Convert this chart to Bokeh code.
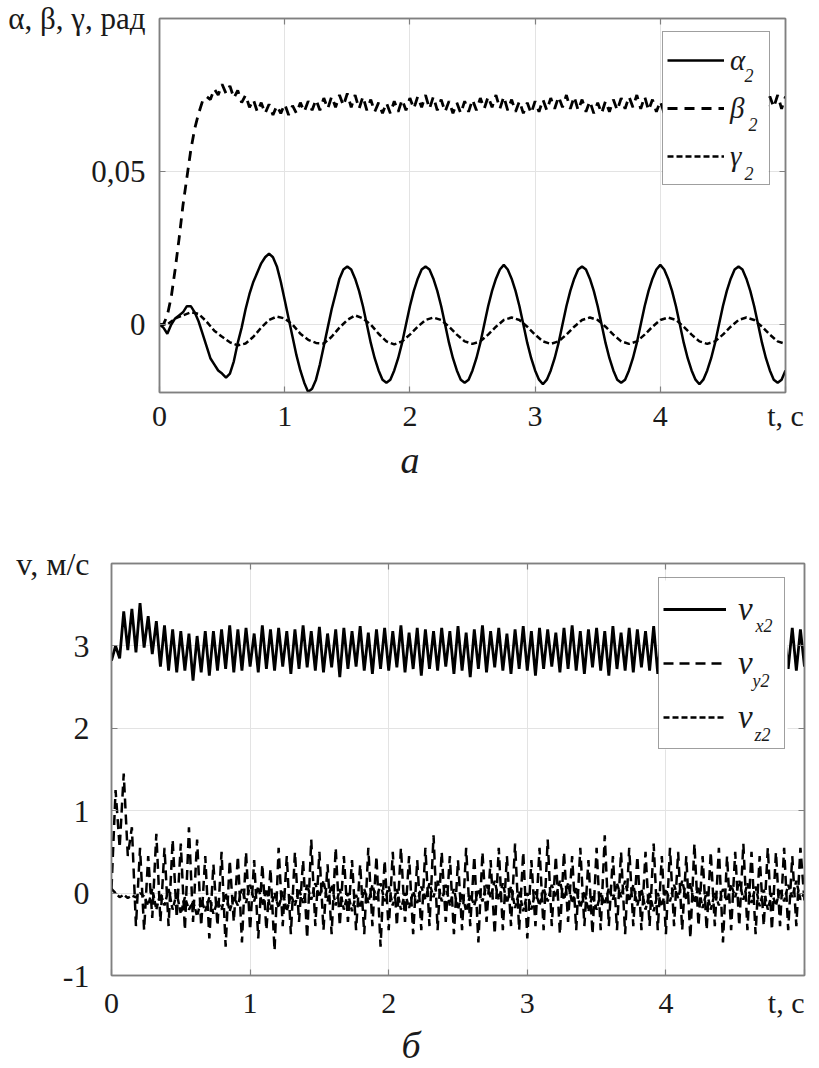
import numpy as np
from bokeh.plotting import figure
from bokeh.models import (Range1d, FixedTicker, CustomJSTickFormatter, LinearAxis,
                          Label, Legend, LegendItem, Title, BoxAnnotation)
from bokeh.embed import file_html
from bokeh.resources import INLINE

SERIF = "Liberation Serif"

# ---------------- data: chart (a) angles, rad ----------------
t_alpha = np.linspace(0, 5, 161)
alpha2 = [
    0.000, -0.001, -0.003, 0.000, 0.002, 0.003, 0.004, 0.006, 0.006, 0.004,
    0.001, -0.003, -0.007, -0.011, -0.013, -0.015, -0.016, -0.0173, -0.016, -0.012,
    -0.006, -0.001, 0.005, 0.010, 0.014, 0.017, 0.020, 0.022, 0.0232, 0.022,
    0.019, 0.014, 0.008, 0.002, -0.004, -0.010, -0.015, -0.019, -0.022, -0.021,
    -0.018, -0.013, -0.007, -0.001, 0.005, 0.010, 0.015, 0.018, 0.019, 0.018,
    0.015, 0.011, 0.006, 0.000, -0.006, -0.011, -0.015, -0.018, -0.019, -0.018,
    -0.015, -0.011, -0.006, 0.000, 0.006, 0.011, 0.015, 0.018,
    0.019, 0.018, 0.015, 0.011, 0.006, 0.000, -0.006, -0.011, -0.015, -0.018,
    -0.019, -0.018, -0.015, -0.011, -0.006, 0.000, 0.006, 0.011, 0.015, 0.018,
    0.0195, 0.018, 0.015, 0.011, 0.006, 0.000, -0.006, -0.011, -0.015, -0.018,
    -0.0195, -0.018, -0.015, -0.011, -0.006, 0.000, 0.006, 0.011, 0.015, 0.018,
    0.019, 0.018, 0.015, 0.011, 0.006, 0.000, -0.006, -0.011, -0.015, -0.018,
    -0.019, -0.018, -0.015, -0.011, -0.006, 0.000, 0.006, 0.011, 0.015, 0.018,
    0.0195, 0.018, 0.015, 0.011, 0.006, 0.000, -0.006, -0.011, -0.015, -0.018,
    -0.0195, -0.018, -0.015, -0.011, -0.006, 0.000, 0.006, 0.011, 0.015, 0.018,
    0.019, 0.018, 0.015, 0.011, 0.006, 0.000, -0.006, -0.011, -0.015, -0.018,
    -0.019, -0.018, -0.015,
]

t_beta = np.linspace(0, 5, 161)
beta2 = [
    0.000, 0.000, 0.003, 0.009, 0.018, 0.028, 0.039, 0.048, 0.057, 0.064,
    0.069, 0.073, 0.0745, 0.0735, 0.077, 0.075, 0.0785, 0.0755, 0.078, 0.074,
    0.0765, 0.0725, 0.075, 0.071, 0.0735, 0.0695, 0.0725, 0.069, 0.072, 0.0685,
    0.0715, 0.069, 0.072, 0.0685, 0.0715, 0.069, 0.0725, 0.0695, 0.073, 0.070,
    0.0735, 0.070, 0.074, 0.0705, 0.0745, 0.071, 0.075, 0.0715, 0.0755, 0.071,
    0.075, 0.0705, 0.0745, 0.070, 0.0735, 0.0695, 0.0725, 0.069, 0.0725, 0.069,
    0.073, 0.0695, 0.0735, 0.070, 0.074, 0.0705, 0.0745, 0.071, 0.075, 0.0705,
    0.0745, 0.070, 0.0735, 0.0695, 0.073, 0.069, 0.0725, 0.069, 0.073, 0.0695,
    0.0735, 0.070, 0.074, 0.0705, 0.0745, 0.071, 0.075, 0.0705, 0.0745, 0.070,
    0.0735, 0.0695, 0.073, 0.069, 0.0725, 0.069, 0.073, 0.0695, 0.0735, 0.070,
    0.074, 0.0705, 0.0745, 0.071, 0.075, 0.0705, 0.0745, 0.070, 0.0735, 0.0695,
    0.073, 0.069, 0.0725, 0.069, 0.073, 0.0695, 0.0735, 0.070, 0.074, 0.0705,
    0.0745, 0.071, 0.075, 0.0705, 0.0745, 0.070, 0.0735, 0.0695, 0.073, 0.069,
    0.0725, 0.069, 0.073, 0.0695, 0.0735, 0.070, 0.074, 0.0705, 0.0745, 0.071,
    0.075, 0.0705, 0.0745, 0.070, 0.0735, 0.0695, 0.073, 0.069, 0.0725, 0.069,
    0.073, 0.0695, 0.0735, 0.070, 0.074, 0.0705, 0.0745, 0.071, 0.075, 0.0705,
    0.0745,
]

t_gamma = np.linspace(0, 5, 81)
gamma2 = [
    0.000, 0.000, 0.002, 0.003, 0.004, 0.0035, 0.001, -0.002, -0.004, -0.0058,
    -0.0068, -0.0062, -0.004, -0.001, 0.0015, 0.0026, 0.002, 0.000, -0.003, -0.005,
    -0.006, -0.0062, -0.004, -0.001, 0.0015, 0.003, 0.002, 0.000, -0.003, -0.0055,
    -0.0065, -0.0055, -0.0033, -0.0007, 0.0015,
    0.0023, 0.0015, -0.0007, -0.0033, -0.0055, -0.0063, -0.0055, -0.0033, -0.0007, 0.0015,
    0.0023, 0.0015, -0.0007, -0.0033, -0.0055, -0.0063, -0.0055, -0.0033, -0.0007, 0.0015,
    0.0023, 0.0015, -0.0007, -0.0033, -0.0055, -0.0063, -0.0055, -0.0033, -0.0007, 0.0015,
    0.0023, 0.0015, -0.0007, -0.0033, -0.0055, -0.0063, -0.0055, -0.0033, -0.0007, 0.0015,
    0.0023, 0.0015, -0.0007, -0.0033, -0.0055, -0.0063,
]

# ---------------- data: chart (б) velocities, m/s ----------------
t_v = np.linspace(0, 5, 171)
vx2 = [
    2.82, 3.00, 2.85, 3.42, 2.95, 3.45, 2.92, 3.52, 2.98, 3.36,
    2.90, 3.30, 2.75, 3.25, 2.70, 3.20, 2.68, 3.18, 2.70, 3.15,
    2.58, 3.12, 2.68, 3.18, 2.64, 3.18, 2.70, 3.20, 2.72, 3.25,
    2.68, 3.20, 2.70, 3.22, 2.75, 3.15, 2.68, 3.25, 2.72, 3.20,
    2.70, 3.22, 2.75, 3.18, 2.66, 3.20, 2.72, 3.25, 2.74, 3.18,
    2.70, 3.23, 2.68, 3.15, 2.74, 3.20, 2.62, 3.22, 2.72, 3.18,
    2.75, 3.24, 2.70, 3.16, 2.66, 3.20, 2.72, 3.22, 2.70, 3.18,
    2.74, 3.25, 2.68, 3.16, 2.72, 3.22, 2.64, 3.20, 2.72, 3.18,
    2.70, 3.22, 2.75, 3.18, 2.66, 3.24, 2.70, 3.16, 2.62, 3.20,
    2.72, 3.25, 2.68, 3.18, 2.74, 3.22, 2.70, 3.15, 2.66, 3.20,
    2.72, 3.24, 2.70, 3.18, 2.64, 3.22, 2.72, 3.20, 2.75, 3.16,
    2.68, 3.22, 2.72, 3.25, 2.70, 3.18, 2.66, 3.20, 2.74, 3.22,
    2.70, 3.18, 2.64, 3.24, 2.72, 3.16, 2.70, 3.22, 2.68, 3.20,
    2.74, 3.18, 2.70, 3.24, 2.66, 3.20, 2.72, 3.22, 2.70, 3.18,
    2.68, 3.20, 2.72, 3.24, 2.70, 3.16, 2.66, 3.22, 2.72, 3.20,
    2.70, 3.18, 2.74, 3.22, 2.68, 3.20, 2.70, 3.24, 2.66, 3.18,
    2.72, 3.22, 2.70, 3.20, 2.68, 3.18, 2.72, 3.22, 2.70, 3.20,
    2.75,
]
vy2 = [
    0.05, 1.25, 0.55, 1.45, 0.45, 0.80, -0.40, 0.55, -0.45, 0.45,
    -0.30, 0.72, -0.35, 0.55, -0.40, 0.65, -0.30, 0.60, -0.45, 0.80,
    -0.35, 0.65, -0.40, 0.45, -0.55, 0.35, -0.40, 0.50, -0.65, 0.40,
    -0.35, 0.45, -0.60, 0.50, -0.45, 0.40, -0.55, 0.35, -0.45, 0.30,
    -0.70, 0.55, -0.40, 0.45, -0.50, 0.50, -0.35, 0.40, -0.55, 0.65,
    -0.40, 0.50, -0.45, 0.35, -0.50, 0.55, -0.40, 0.45, -0.35, 0.40,
    -0.45, 0.35, -0.50, 0.55, -0.40, 0.45, -0.65, 0.40, -0.45, 0.50,
    -0.40, 0.55, -0.35, 0.45, -0.50, 0.40, -0.45, 0.55, -0.40, 0.70,
    -0.45, 0.50, -0.35, 0.45, -0.50, 0.40, -0.45, 0.55, -0.40, 0.45,
    -0.60, 0.50, -0.35, 0.40, -0.50, 0.55, -0.45, 0.45, -0.40, 0.60,
    -0.45, 0.50, -0.55, 0.40, -0.40, 0.55, -0.45, 0.65, -0.40, 0.45,
    -0.50, 0.50, -0.35, 0.45, -0.45, 0.55, -0.40, 0.40, -0.50, 0.55,
    -0.45, 0.70, -0.40, 0.45, -0.45, 0.50, -0.50, 0.55, -0.40, 0.45,
    -0.45, 0.50, -0.40, 0.60, -0.45, 0.45, -0.50, 0.55, -0.40, 0.50,
    -0.45, 0.45, -0.55, 0.60, -0.40, 0.45, -0.45, 0.50, -0.40, 0.55,
    -0.60, 0.45, -0.45, 0.50, -0.40, 0.60, -0.45, 0.50, -0.50, 0.45,
    -0.40, 0.55, -0.45, 0.50, -0.40, 0.55, -0.45, 0.45, -0.40, 0.55,
    -0.10,
]
vz2 = [
    0.05, 0.00, -0.05, -0.02, -0.06, -0.03, -0.05, 0.00, -0.04,
    -0.15, 0.05, -0.20, 0.00, -0.15, 0.05, -0.20, 0.00,
    -0.25, -0.05, -0.20, -0.10, -0.28, -0.08, -0.22, -0.05, -0.25, -0.10, -0.20, 0.00, -0.22, -0.05,
    -0.15, 0.05, -0.12, 0.10, -0.10, 0.08, -0.15, 0.05, -0.20, 0.00,
    -0.18, 0.02, -0.22, -0.02, -0.15, 0.05, -0.12, 0.10, -0.08, 0.12,
    -0.05, 0.15, -0.10, 0.10, -0.15, 0.05, -0.20, 0.00, -0.22, -0.02,
    -0.18, 0.05, -0.12, 0.10, -0.08, 0.12, -0.10, 0.08, -0.15, 0.05,
    -0.20, 0.00, -0.18, 0.02, -0.12, 0.08, -0.08, 0.12, -0.05, 0.15,
    -0.10, 0.10, -0.15, 0.05, -0.20, 0.00, -0.22, -0.02, -0.15, 0.05,
    -0.10, 0.10, -0.05, 0.15, -0.08, 0.12, -0.12, 0.08, -0.18, 0.02,
    -0.22, 0.00, -0.20, 0.02, -0.15, 0.06, -0.10, 0.10, -0.05, 0.15,
    -0.08, 0.12, -0.12, 0.06, -0.18, 0.02, -0.22, -0.02, -0.20, 0.00,
    -0.14, 0.06, -0.08, 0.12, -0.05, 0.15, -0.10, 0.10, -0.15, 0.05,
    -0.20, 0.00, -0.22, 0.00, -0.16, 0.05, -0.10, 0.10, -0.06, 0.15,
    -0.08, 0.12, -0.12, 0.08, -0.18, 0.02, -0.20, 0.00, -0.15, 0.05,
    -0.10, 0.10, -0.05, 0.15, -0.08, 0.12, -0.12, 0.08, -0.16, 0.04,
    -0.20, 0.00, -0.15, 0.05, -0.10, 0.10, -0.05, 0.15, -0.08, 0.00,
]

# tick positions and texts
x_ticks = [0, 1, 2, 3, 4, 5]
a_yticks = [0, 0.05, 0.1]
v_yticks = [-1, 0, 1, 2, 3, 4]
a_xlabel_fmt = "return tick > 4.5 ? 't, с' : tick.toFixed(0);"
v_xlabel_fmt = "return tick > 4.5 ? 't, с\u00a0\u00a0' : tick.toFixed(0);"
a_ylabel_fmt = ("return tick > 0.07 ? 'α, β, γ, рад' : "
                "(tick == 0 ? '0' : tick.toFixed(2).replace('.', ','));")
v_ylabel_fmt = "return tick > 3.5 ? 'v, м/с' : tick.toFixed(0);"

AX = "#808080"
GRID = "#e3e3e3"
TXT = "#1a1a1a"


def style_axis(ax, size=None, st=0):
    ax.axis_line_color = AX
    ax.axis_line_width = 1.5
    ax.major_tick_line_color = AX
    ax.major_tick_line_width = 1.2
    ax.major_tick_in = 6
    ax.major_tick_out = 0
    ax.minor_tick_line_color = None
    ax.major_label_text_font = SERIF
    ax.major_label_standoff = st
    if size:
        ax.major_label_text_font_size = size
        ax.major_label_text_color = TXT
    else:
        # mirror axis: tick marks only, no tick texts drawn
        ax.major_label_text_font_size = "1px"
        ax.major_label_text_color = None


def make_fig(height, left, top, right, bottom, yr, yticks, xfmt, yfmt,
             xlab_size, ylab_size, xstand, ystand):
    p = figure(width=819, height=height, output_backend="svg", toolbar_location=None,
               x_range=Range1d(0, 5), y_range=Range1d(*yr),
               min_border_left=left, min_border_right=right,
               min_border_top=top, min_border_bottom=bottom)
    p.background_fill_color = "white"
    p.border_fill_color = "white"
    p.outline_line_color = AX
    p.outline_line_width = 1.5
    p.xgrid.ticker = FixedTicker(ticks=[1, 2, 3, 4])
    p.ygrid.ticker = FixedTicker(ticks=yticks[1:-1] if yticks[0] < 0 else yticks[:-1])
    for g in (p.xgrid[0], p.ygrid[0]):
        g.grid_line_color = GRID
        g.grid_line_width = 1
    xa = p.xaxis[0]
    xa.ticker = FixedTicker(ticks=x_ticks)
    xa.formatter = CustomJSTickFormatter(code=xfmt)
    style_axis(xa, xlab_size, xstand)
    ya = p.yaxis[0]
    ya.ticker = FixedTicker(ticks=yticks)
    ya.formatter = CustomJSTickFormatter(code=yfmt)
    style_axis(ya, ylab_size, ystand)
    top_ax = LinearAxis(ticker=FixedTicker(ticks=[1, 2, 3, 4]))
    right_ax = LinearAxis(ticker=FixedTicker(ticks=yticks[:-1]))
    style_axis(top_ax)
    style_axis(right_ax)
    p.add_layout(top_ax, "above")
    p.add_layout(right_ax, "right")
    return p


def legend_backdrop(p, left, right, top, bottom):
    # opaque white area behind the legend (hides the curves there)
    p.add_layout(BoxAnnotation(left=left, right=right, top=top, bottom=bottom,
                               left_units="screen", right_units="screen",
                               top_units="screen", bottom_units="screen",
                               fill_color="white", fill_alpha=1.0, line_color=None,
                               level="glyph"))


def sub(p, x, y, text, size="18px"):
    p.add_layout(Label(x=x, y=y, x_units="screen", y_units="screen", text=text,
                       text_font=SERIF, text_font_size=size, text_font_style="italic",
                       text_color=TXT, text_align="left", text_baseline="alphabetic"))


def caption(p, text, offset, standoff):
    p.add_layout(Title(text=text, align="left", offset=offset, standoff=standoff,
                       text_font=SERIF, text_font_size="38px", text_font_style="italic",
                       text_color=TXT), "below")


def make_legend(items, loc, gw, gh, lw, ls, fsize):
    return Legend(items=items, location=loc, orientation="vertical",
                  glyph_width=gw, glyph_height=gh, label_height=gh, label_width=lw,
                  label_standoff=ls, padding=4, spacing=0, margin=0,
                  border_line_color="#404040", border_line_width=1.2,
                  background_fill_alpha=0.0,
                  label_text_font=SERIF, label_text_font_style="italic",
                  label_text_font_size=fsize, label_text_color=TXT)


# ---------------- chart (a) ----------------
p1 = make_fig(500, 159, 18, 34, 108, (-0.0222, 0.1), a_yticks, a_xlabel_fmt, a_ylabel_fmt,
              "30px", "31px", 6, 14)
ra = p1.line(t_alpha, alpha2, line_color="black", line_width=2.5)
rb = p1.line(t_beta, beta2, line_color="black", line_width=2.8, line_dash="10 7")
rg = p1.line(t_gamma, gamma2, line_color="black", line_width=2.5, line_dash="6 3")
legend_backdrop(p1, 503, 609, 359, 207)
p1.add_layout(make_legend([LegendItem(label="α", renderers=[ra]),
                           LegendItem(label="β", renderers=[rb]),
                           LegendItem(label="γ", renderers=[rg])],
                          (503, 207), 57, 48, 35, 6, "29px"))
sub(p1, 585, 317, "2")
sub(p1, 589, 268, "2")
sub(p1, 585, 219, "2")
caption(p1, "а", 241, 4)

# ---------------- chart (б) ----------------
p2 = make_fig(568, 111, 63, 15, 93, (-1, 4), v_yticks, v_xlabel_fmt, v_ylabel_fmt,
              "30px", "32px", 10, 22)
rx = p2.line(t_v, vx2, line_color="black", line_width=2.8)
ry = p2.line(t_v, vy2, line_color="black", line_width=2.5, line_dash="10 6")
rz = p2.line(t_v, vz2, line_color="black", line_width=2.5, line_dash="6 3")
legend_backdrop(p2, 547, 676, 395, 226)
p2.add_layout(make_legend([LegendItem(label="v", renderers=[rx]),
                           LegendItem(label="v", renderers=[ry]),
                           LegendItem(label="v", renderers=[rz])],
                          (547, 226), 63, 54, 42, 12, "33px"))
sub(p2, 644, 350, "x2")
sub(p2, 641, 295, "y2")
sub(p2, 643, 241, "z2")
caption(p2, "б", 290, 0)

open("out.html", "w").write(file_html([p1, p2], INLINE))
